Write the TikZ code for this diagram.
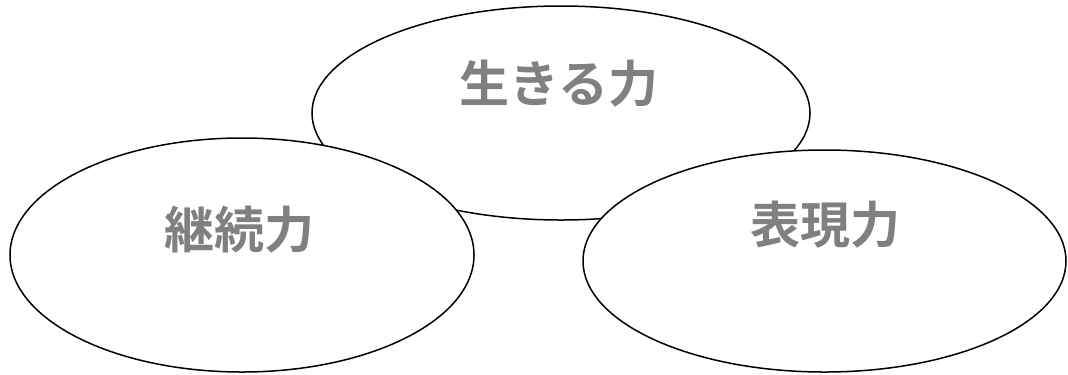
\documentclass[tikz,border=0pt]{standalone}
\usepackage{fontspec}
\newfontfamily\jpfont{Noto Sans CJK JP Bold}
\usetikzlibrary{shapes.geometric}
\tikzset{
  oval/.style={shape=ellipse, draw=black, fill=white, line width=1.5bp, inner sep=0pt},
  lbl/.style={font=\jpfont\fontsize{50bp}{50bp}\selectfont, text=black!50, inner sep=0pt, anchor=center}
}
\begin{document}
\begin{tikzpicture}[x=1bp,y=-1bp]
\useasboundingbox (0,0) rectangle (1068,374);
\node[oval, minimum width=498bp, minimum height=214bp] (top) at (561,113) {};
\node[oval, minimum width=464bp, minimum height=234bp] (left) at (242,255) {};
\node[oval, minimum width=483bp, minimum height=222bp] (right) at (824.5,261) {};
\node[lbl] (t1) at (559,84) {生きる力};
\node[lbl] (t2) at (239,230) {継続力};
\node[lbl] (t3) at (825,225) {表現力};
\end{tikzpicture}
\end{document}
